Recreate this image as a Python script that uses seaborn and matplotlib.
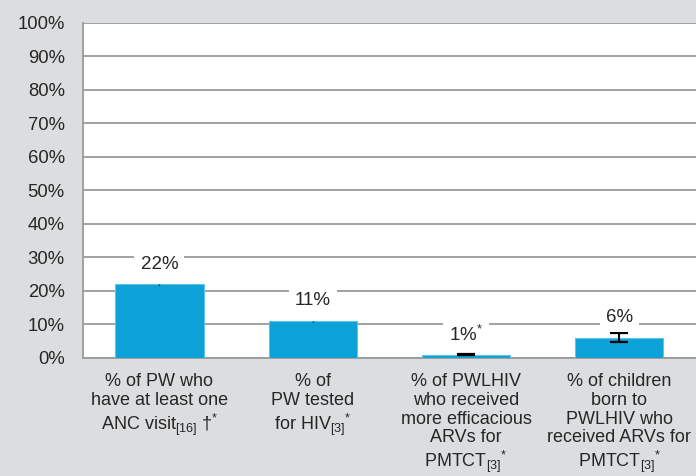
import pandas as pd
import seaborn as sns
import matplotlib.pyplot as plt
import numpy as np

# data
categories = [
    "% of PW who\nhave at least one\nANC visit$_{[16]}$ †$^{*}$",
    "% of\nPW tested\nfor HIV$_{[3]}$$^{*}$",
    "% of PWLHIV\nwho received\nmore efficacious\nARVs for\nPMTCT$_{[3]}$$^{*}$",
    "% of children\nborn to\nPWLHIV who\nreceived ARVs for\nPMTCT$_{[3]}$$^{*}$",
]
values = [22, 11, 1, 6]
errors = [0.15, 0.15, 0.25, 1.3]
bar_labels = ["22%", "11%", "1%$^{*}$", "6%"]
yticks = list(range(0, 101, 10))

bg = "#dcdddf"
blue = "#0ca2d8"
grid_grey = "#9a9a9a"

sns.set_style("white")
plt.rcParams["font.family"] = ["Liberation Sans", "DejaVu Sans"]
plt.rcParams["mathtext.fontset"] = "custom"
plt.rcParams["mathtext.rm"] = "Liberation Sans"
plt.rcParams["mathtext.it"] = "Liberation Sans"
plt.rcParams["mathtext.default"] = "rm"

df = pd.DataFrame({"cat": categories, "val": values})
xpos = np.arange(len(values))

fig = plt.figure(figsize=(6.96, 4.76), dpi=100, facecolor=bg)
ax = fig.add_axes([0.119, 0.248, 0.881, 0.704])
ax.set_facecolor("white")

sns.barplot(data=df, x="cat", y="val", color=blue, width=0.575,
            errorbar=None, saturation=1, edgecolor="#5cc3ea", linewidth=0.8,
            ax=ax, zorder=3)
# first two: tiny error, no caps; last two: capped
ax.errorbar(xpos[:2], values[:2], yerr=errors[:2], fmt="none",
            ecolor="black", elinewidth=1.0, capsize=0, zorder=4)
ax.errorbar(xpos[2:], values[2:], yerr=errors[2:], fmt="none",
            ecolor="black", elinewidth=1.5, capsize=6.5, capthick=1.6, zorder=4)

# value labels with white boxes over the gridlines
for i, (v, t) in enumerate(zip(values, bar_labels)):
    ax.text(i, v + 6, t, ha="center", va="center", fontsize=13.5,
            bbox=dict(facecolor="white", edgecolor="none", pad=4.5), zorder=5)

ax.set_ylim(0, 100)
ax.set_xlim(-0.5, 3.5)
ax.set_yticks(yticks)
ax.set_yticklabels([f"{t}%" for t in yticks], fontsize=13.3)
ax.yaxis.grid(True, color=grid_grey, linewidth=1.3, zorder=0)
ax.set_axisbelow(True)

ax.set_xticks(range(len(categories)))
ax.set_xticklabels(categories, fontsize=13, linespacing=1.13, va="top")
ax.tick_params(axis="x", which="major", length=0, pad=11)
ax.set_xticks(np.arange(-0.5, 4, 1), minor=True)
ax.tick_params(axis="x", which="minor", length=5, width=1.2, color=grid_grey, direction="out")
ax.tick_params(axis="y", length=5, width=1.2, color=grid_grey, direction="out", pad=8)

ax.set_xlabel("")
ax.set_ylabel("")
for s in ["top", "right"]:
    ax.spines[s].set_visible(False)
for s in ["left", "bottom"]:
    ax.spines[s].set_color(grid_grey)
    ax.spines[s].set_linewidth(1.3)

plt.savefig("out.png", dpi=100, facecolor=bg)
